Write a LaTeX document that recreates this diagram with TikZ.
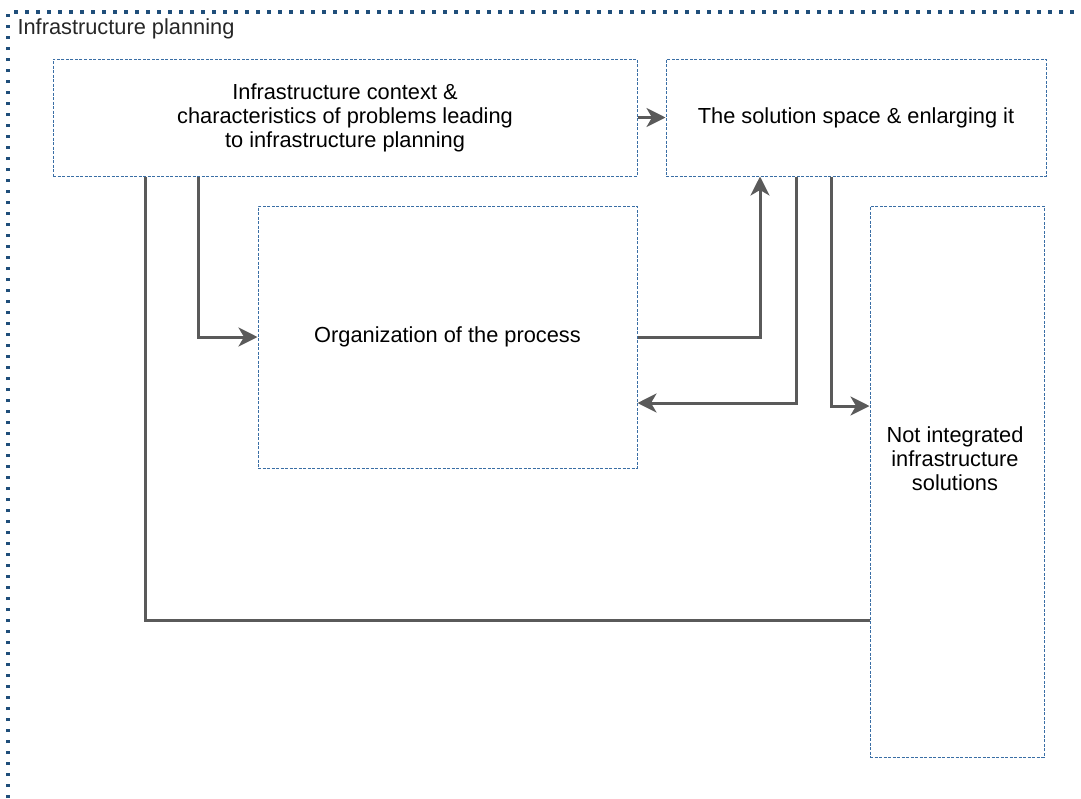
\documentclass[tikz,border=0pt]{standalone}
\usepackage{fontspec}
\setmainfont{Liberation Sans}
\usetikzlibrary{arrows.meta}
\definecolor{framecol}{HTML}{1F4E7A}
\definecolor{boxcol}{HTML}{3A6EA5}
\definecolor{linkcol}{HTML}{5A5A5A}
\begin{document}
\begin{tikzpicture}[x=1pt,y=-1pt,
  panel/.style={draw=boxcol, dashed, dash pattern=on 3pt off 1.5pt, line width=1pt, fill=white,
    inner sep=0pt, align=center, font=\fontsize{21.8}{24}\selectfont},
  link/.style={draw=linkcol, line width=3pt},
  tip/.style={-{Stealth[length=19pt,width=19pt,inset=5.5pt]}}]
\useasboundingbox (0,0) rectangle (1081,798);
% outer dotted frame
\draw[framecol, line width=3.5pt, dash pattern=on 3.5pt off 7.5pt] (8,798) -- (8,12) -- (1081,12);
\node[anchor=west, font=\fontsize{21.8}{24}\selectfont, text=black!85] (title) at (14,29) {Infrastructure planning};
% boxes
\node[panel, minimum width=584pt, minimum height=117pt] (ctx) at (345,117.5)
  {Infrastructure context \&\\characteristics of problems leading\\to infrastructure planning};
\node[panel, minimum width=380pt, minimum height=117pt] (sol) at (856,117.5)
  {The solution space \& enlarging it};
\node[panel, minimum width=379pt, minimum height=262pt] (org) at (447.5,337)
  {Organization of the process};
\node[panel, minimum width=174pt, minimum height=551pt] (nis) at (957,481.5) {};
\node[font=\fontsize{21.8}{24}\selectfont, align=center] (nistext) at (955,459)
  {Not integrated\\infrastructure\\solutions};
% connectors
\draw[link, tip] (ctx.east) -- (sol.west);
\draw[link, tip] (ctx.south -| 198,0) |- (org.west);
\draw[link, tip] (org.east) -| (sol.south -| 760,0);
\draw[link, tip] (sol.south -| 796,0) |- (org.east |- 0,403);
\draw[link, tip] (sol.south -| 831,0) |- (nis.west |- 0,406);
\draw[link] (ctx.south -| 145,0) |- (nis.west |- 0,620);
\end{tikzpicture}
\end{document}
